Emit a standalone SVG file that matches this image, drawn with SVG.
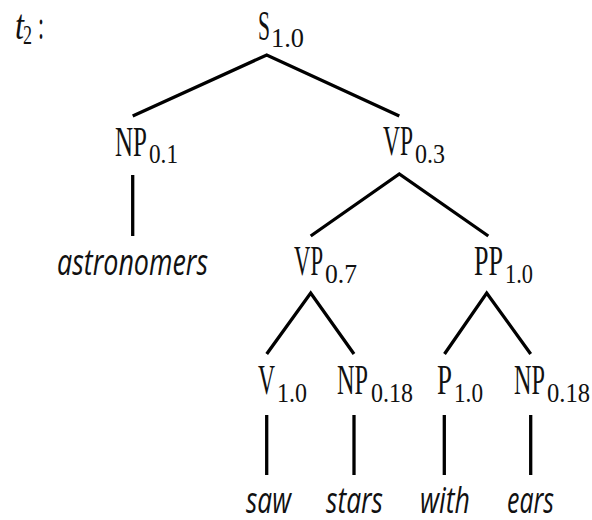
<svg xmlns="http://www.w3.org/2000/svg" width="592" height="520" viewBox="0 0 592 520">
<style>
.lab{font-family:"Liberation Serif","DejaVu Serif",serif;font-size:42px;fill:#111}
.sub{font-family:"Liberation Serif","DejaVu Serif",serif;font-size:27px;fill:#111}
.word{font-family:"Open Sans","DejaVu Sans",sans-serif;font-style:italic;font-size:37px;fill:#111}
.edge{fill:none;stroke:#000;stroke-width:3.3;stroke-linejoin:miter}
</style>
<rect width="592" height="520" fill="#fff"/>
<g id="title">
<text class="lab" x="15" y="39" font-style="italic" textLength="9" lengthAdjust="spacingAndGlyphs">t</text>
<text class="sub" x="23" y="44" textLength="9" lengthAdjust="spacingAndGlyphs">2</text>
<text class="lab" x="38" y="39" textLength="6" lengthAdjust="spacingAndGlyphs">:</text>
</g>
<g id="connectors">
<polyline class="edge" points="132.7,116 266.7,55 399.3,116"/>
<line class="edge" x1="132.7" y1="175" x2="132.7" y2="236" stroke-width="3"/>
<polyline class="edge" points="310.7,236 399.3,174 488.3,236"/>
<polyline class="edge" points="266.7,354 310.7,293 354,354"/>
<polyline class="edge" points="444.5,354 486.7,293 530.7,354"/>
<line class="edge" x1="266.7" y1="415" x2="266.7" y2="475" stroke-width="3"/>
<line class="edge" x1="354" y1="415" x2="354" y2="475" stroke-width="3"/>
<line class="edge" x1="444.3" y1="415" x2="444.3" y2="475" stroke-width="3"/>
<line class="edge" x1="530.7" y1="415" x2="530.7" y2="475" stroke-width="3"/>
</g>
<g id="S">
<text class="lab" x="258" y="40" textLength="12" lengthAdjust="spacingAndGlyphs">S</text>
<text class="sub" x="271" y="47" textLength="33" lengthAdjust="spacingAndGlyphs">1.0</text>
</g>
<g id="NP1">
<text class="lab" x="115" y="156" textLength="32" lengthAdjust="spacingAndGlyphs">NP</text>
<text class="sub" x="149" y="163" textLength="29" lengthAdjust="spacingAndGlyphs">0.1</text>
</g>
<g id="VP1">
<text class="lab" x="383" y="155" textLength="30" lengthAdjust="spacingAndGlyphs">VP</text>
<text class="sub" x="415" y="163" textLength="30" lengthAdjust="spacingAndGlyphs">0.3</text>
</g>
<g id="astronomers">
<text class="word" x="57" y="275" textLength="151" lengthAdjust="spacingAndGlyphs">astronomers</text>
</g>
<g id="VP2">
<text class="lab" x="294" y="275" textLength="29" lengthAdjust="spacingAndGlyphs">VP</text>
<text class="sub" x="325" y="283" textLength="32" lengthAdjust="spacingAndGlyphs">0.7</text>
</g>
<g id="PP">
<text class="lab" x="474" y="275" textLength="29" lengthAdjust="spacingAndGlyphs">PP</text>
<text class="sub" x="505" y="283" textLength="28" lengthAdjust="spacingAndGlyphs">1.0</text>
</g>
<g id="V">
<text class="lab" x="258" y="394" textLength="17" lengthAdjust="spacingAndGlyphs">V</text>
<text class="sub" x="277" y="402" textLength="30" lengthAdjust="spacingAndGlyphs">1.0</text>
</g>
<g id="NP2">
<text class="lab" x="337" y="394" textLength="31" lengthAdjust="spacingAndGlyphs">NP</text>
<text class="sub" x="371" y="402" textLength="42" lengthAdjust="spacingAndGlyphs">0.18</text>
</g>
<g id="P">
<text class="lab" x="437" y="394" textLength="15" lengthAdjust="spacingAndGlyphs">P</text>
<text class="sub" x="454" y="402" textLength="29" lengthAdjust="spacingAndGlyphs">1.0</text>
</g>
<g id="NP3">
<text class="lab" x="514" y="394" textLength="31" lengthAdjust="spacingAndGlyphs">NP</text>
<text class="sub" x="547" y="402" textLength="43" lengthAdjust="spacingAndGlyphs">0.18</text>
</g>
<g id="saw"><text class="word" x="246" y="513" textLength="45" lengthAdjust="spacingAndGlyphs">saw</text></g>
<g id="stars"><text class="word" x="326" y="513" textLength="57" lengthAdjust="spacingAndGlyphs">stars</text></g>
<g id="with"><text class="word" x="420" y="513" textLength="50" lengthAdjust="spacingAndGlyphs">with</text></g>
<g id="ears"><text class="word" x="507" y="513" textLength="47" lengthAdjust="spacingAndGlyphs">ears</text></g>
</svg>
